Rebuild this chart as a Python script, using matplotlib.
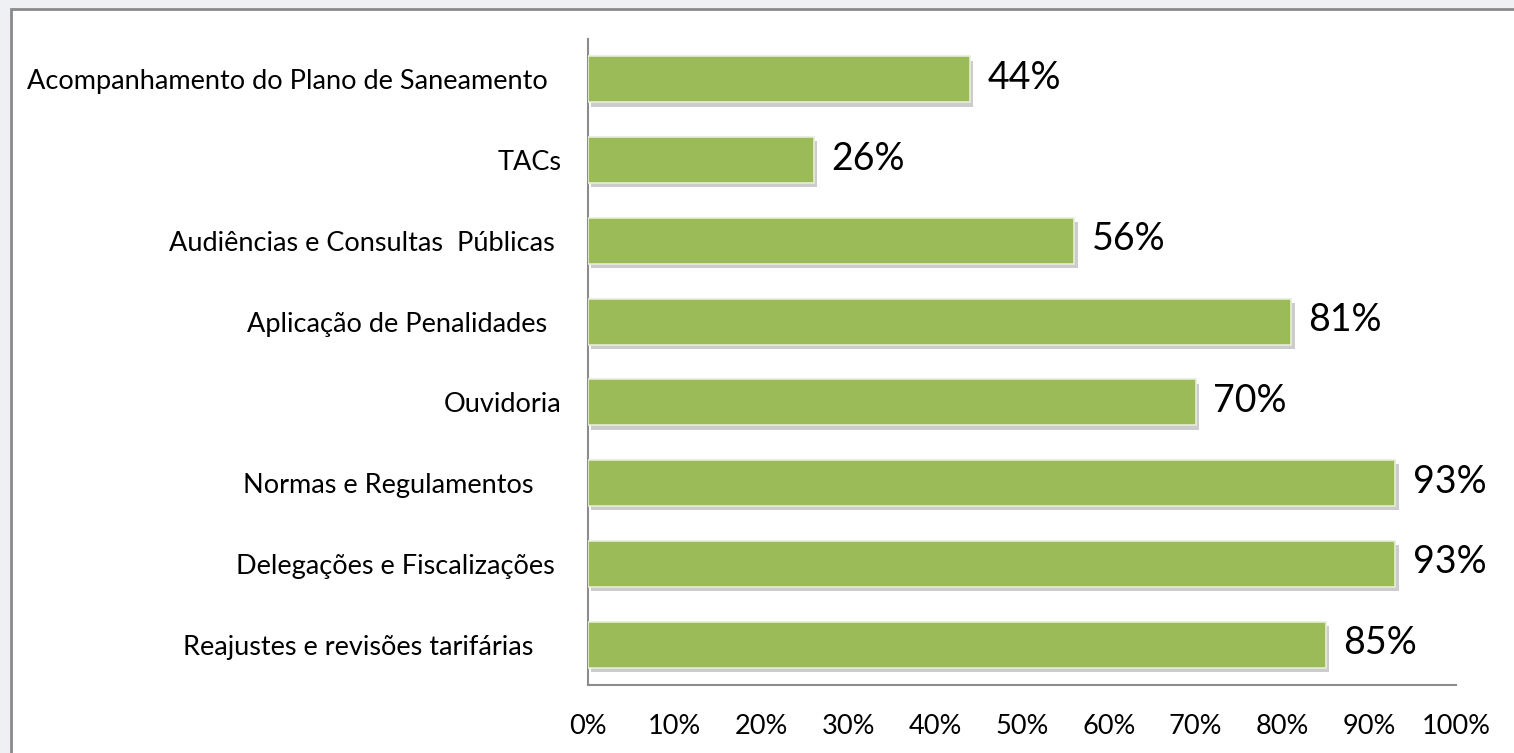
"""
Horizontal bar chart - percentual de atividades
"""
import matplotlib
matplotlib.use('Agg')
import matplotlib.pyplot as plt
import matplotlib.patheffects as pe
from matplotlib.patches import Rectangle

# data (top to bottom as shown)
categories = [
    'Acompanhamento do Plano de Saneamento  ',
    'TACs',
    'Audiências e Consultas  Públicas ',
    'Aplicação de Penalidades  ',
    'Ouvidoria',
    'Normas e Regulamentos    ',
    'Delegações e Fiscalizações ',
    'Reajustes e revisões tarifárias    ',
]
values = [44, 26, 56, 81, 70, 93, 93, 85]
xticks = [0, 10, 20, 30, 40, 50, 60, 70, 80, 90, 100]

plt.rcParams['font.family'] = ['Lato', 'DejaVu Sans']

fig = plt.figure(figsize=(15.14, 7.53), dpi=100)
fig.patch.set_facecolor('#eef0f3')

# white chart area with grey frame
frame = Rectangle((10.5 / 1514, -0.05), 1.1, 1 - 9 / 753 + 0.05,
                  transform=fig.transFigure, facecolor='white',
                  edgecolor='#8a8a8a', linewidth=2.0, zorder=-10)
fig.patches.append(frame)

ax = fig.add_axes([588 / 1514, 1 - 685 / 753, 868 / 1514, (685 - 39) / 753])
ax.set_facecolor('none')
ax.set_zorder(5)

ypos = list(range(len(categories)))[::-1]
shadow = [pe.SimplePatchShadow(offset=(2.5, -3), shadow_rgbFace='#808080', alpha=0.4),
          pe.Normal()]
bars = ax.barh(ypos, values, height=0.57, color='#9bbb59',
               edgecolor='#e6eed8', linewidth=1.2, zorder=3)
for b in bars:
    b.set_path_effects(shadow)

for y, v in zip(ypos, values):
    ax.text(v + 2.0, y + 0.02, f'{v}%', va='center', ha='left',
            fontsize=27, color='black')

ax.set_xlim(0, 100)
ax.set_ylim(-0.5, len(categories) - 0.5)
ax.set_yticks(ypos)
ax.set_yticklabels(categories, fontsize=19.5)
ax.set_xticks(xticks)
ax.set_xticklabels([f'{t}%' for t in xticks], fontsize=19.5)
ax.tick_params(axis='both', length=0)
ax.tick_params(axis='y', pad=19)
ax.tick_params(axis='x', pad=21)

for s in ['top', 'right']:
    ax.spines[s].set_visible(False)
for s in ['left', 'bottom']:
    ax.spines[s].set_color('#8c8c8c')
    ax.spines[s].set_linewidth(1.5)

fig.savefig('out.png', dpi=100, facecolor=fig.get_facecolor())
